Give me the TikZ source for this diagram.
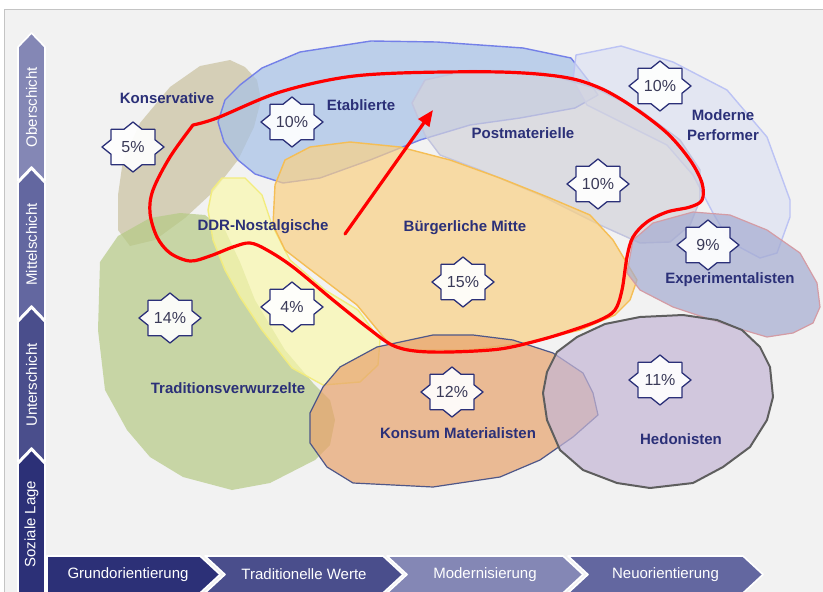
\documentclass[tikz,border=0pt]{standalone}
\usepackage{fontspec}
\setmainfont{Liberation Sans}
\usetikzlibrary{arrows.meta}
\definecolor{navy}{HTML}{2B3078}
\definecolor{pctgray}{HTML}{3A3A58}
\definecolor{barA}{HTML}{2C3077}
\definecolor{barB}{HTML}{4A4E8C}
\definecolor{barC}{HTML}{6367A0}
\definecolor{barD}{HTML}{8487B5}
\definecolor{panelbg}{HTML}{F2F2F2}
\definecolor{panelline}{HTML}{C4C4C4}
\definecolor{konsFill}{HTML}{C9C19F}
\definecolor{etabFill}{HTML}{A6C1E7}
\definecolor{etabLine}{HTML}{7480E8}
\definecolor{modFill}{HTML}{DDE2F3}
\definecolor{modLine}{HTML}{BCC3F4}
\definecolor{postFill}{HTML}{D3D3DB}
\definecolor{postLine}{HTML}{C2C4DE}
\definecolor{buergFill}{HTML}{FAD184}
\definecolor{buergLine}{HTML}{F5BE55}
\definecolor{ddrFill}{HTML}{FAF8AD}
\definecolor{ddrLine}{HTML}{F2EC7E}
\definecolor{tradFill}{HTML}{B5CA85}
\definecolor{expFill}{HTML}{A5ABD0}
\definecolor{expLine}{HTML}{D49CA5}
\definecolor{konsumFill}{HTML}{E8A36D}
\definecolor{konsumLine}{HTML}{4F5788}
\definecolor{hedFill}{HTML}{C4B6D5}
\definecolor{hedLine}{HTML}{5E5E5E}
\begin{document}
\begin{tikzpicture}[x=1pt,y=-1pt, line join=round, line cap=round,
  >={Triangle[length=16pt,width=13pt]},
  blob/.style={fill opacity=0.7, line width=1.4pt},
  barseg/.style={draw=white, line width=1.6pt},
  bartext/.style={font=\fontsize{15}{17}\selectfont, text=white},
  lbl/.style={font=\fontsize{15}{20}\selectfont\bfseries, text=navy, align=center},
  pct/.style={font=\fontsize{16}{18}\selectfont, text=pctgray, inner sep=0pt},
  starbox/.style={fill=white, fill opacity=0.92, draw=navy, line width=1.3pt},
  redline/.style={draw=red, line width=3.2pt}]
\useasboundingbox (0,0) rectangle (823,592);
\draw[fill=panelbg, draw=panelline, line width=1.5pt] (4.5,9.5) rectangle (830,600);
%\draw[color=gray!50,dashed] (0,0) grid[step=50] (823,592);

% milieus
\draw[blob, fill=konsFill, draw=none] (170,87) -- (200,66) -- (230,60) -- (245,67) -- (257,80) -- (261,100) -- (254,127) -- (238,160) -- (212,193) -- (185,218) -- (155,240) -- (130,246) -- (118,230) -- (118,195) -- (123,160) -- (140,123) -- cycle;
\draw[blob, fill=etabFill, draw=etabLine] (218,122) -- (225,100) -- (240,85) -- (262,68) -- (300,52) -- (371,41) -- (437,42) -- (523,48) -- (571,58) -- (588,80) -- (598,95) -- (575,108) -- (520,118) -- (470,125) -- (420,140) -- (370,160) -- (320,178) -- (283,183) -- (255,174) -- (238,160) -- (224,142) -- cycle;
\draw[blob, fill=modFill, draw=modLine] (573,80) -- (576,55) -- (621,46) -- (673,62) -- (727,90) -- (767,137) -- (790,200) -- (790,217) -- (777,253) -- (760,258) -- (730,242) -- (713,213) -- (693,175) -- (667,145) -- (627,125) -- (587,105) -- cycle;
\draw[blob, fill=postFill, draw=postLine] (412,103) -- (425,80) -- (470,70) -- (540,72) -- (595,88) -- (640,110) -- (680,140) -- (700,170) -- (700,200) -- (690,225) -- (670,242) -- (640,243) -- (600,225) -- (540,195) -- (480,170) -- (440,155) -- (425,135) -- cycle;
\draw[blob, fill=tradFill, draw=none] (100,262) -- (118,236) -- (150,218) -- (180,213) -- (205,215) -- (225,230) -- (240,262) -- (255,300) -- (285,350) -- (313,383) -- (330,400) -- (335,420) -- (330,445) -- (315,460) -- (270,483) -- (232,490) -- (183,477) -- (150,457) -- (127,430) -- (105,390) -- (98,330) -- cycle;
\draw[blob, fill=ddrFill, draw=ddrLine] (212,190) -- (222,178) -- (245,178) -- (262,195) -- (272,225) -- (290,260) -- (325,290) -- (358,310) -- (380,340) -- (378,365) -- (360,382) -- (323,385) -- (292,368) -- (262,330) -- (240,297) -- (225,270) -- (213,240) -- (208,210) -- cycle;
\draw[blob, fill=buergFill, draw=buergLine] (275,185) -- (285,160) -- (310,147) -- (350,142) -- (400,147) -- (450,160) -- (500,178) -- (550,198) -- (590,215) -- (613,240) -- (637,280) -- (630,300) -- (615,315) -- (580,330) -- (530,342) -- (470,350) -- (410,350) -- (390,345) -- (357,305) -- (307,267) -- (285,250) -- (273,225) -- cycle;
\draw[blob, fill=expFill, draw=expLine, line width=1.2pt] (627,273) -- (633,240) -- (653,223) -- (693,212) -- (730,215) -- (767,230) -- (800,253) -- (817,283) -- (820,307) -- (813,323) -- (793,333) -- (767,337) -- (733,327) -- (673,307) -- (640,290) -- cycle;
\draw[blob, fill=konsumFill, draw=konsumLine, line width=1.2pt] (310,413) -- (323,387) -- (340,367) -- (377,347) -- (433,335) -- (473,335) -- (513,340) -- (553,353) -- (583,373) -- (593,393) -- (598,415) -- (573,437) -- (540,460) -- (500,477) -- (433,487) -- (353,483) -- (327,467) -- (310,443) -- cycle;
\draw[blob, fill=hedFill, draw=hedLine, line width=2pt] (543,393) -- (547,372) -- (557,352) -- (577,337) -- (605,324) -- (640,317) -- (683,315) -- (717,320) -- (742,330) -- (760,347) -- (770,367) -- (773,397) -- (767,420) -- (750,447) -- (723,467) -- (693,483) -- (650,488) -- (617,483) -- (583,470) -- (560,450) -- (547,420) -- cycle;

% red trend
\draw[redline] plot[smooth, tension=0.55] coordinates {(193,125) (217,118) (277,93) (340,78) (400,73) (500,72) (563,77) (600,88) (633,107) (667,133) (690,160) (702,183) (702,200) (690,207) (667,212) (647,222) (633,237) (627,257) (622,290) (615,310) (600,320) (573,330) (540,340) (500,349) (450,352) (415,351) (392,345) (368,328) (333,300) (293,267) (267,250) (250,243) (233,247) (210,256) (190,261) (170,253) (157,237) (150,213) (153,190) (170,157) (193,125)};
\coordinate (trendA) at (345,234);
\coordinate (trendB) at (433,110);
\draw[redline, ->] (trendA) -- (trendB);

% shares
\foreach \nm/\pos/\txt in {konsPct/{133,147}/5, etabPct/{292,122}/10, modPct/{660,86}/10, postPct/{598,184}/10, expPct/{708,245}/9, buergPct/{463,282}/15, tradPct/{170,318}/14, ddrPct/{292,307}/4, konsumPct/{452,392}/12, hedPct/{660,380}/11}{
  \draw[starbox, shift={(\pos)}] plot[samples at={0,...,15}] ({31*(1-0.235*mod(\x,2))*cos(22.5*\x)},{25*(1-0.235*mod(\x,2))*sin(22.5*\x)}) -- cycle;
  \node[pct] (\nm) at (\pos) {\txt\%};
}

% names
\foreach \nm/\pos/\txt in {konservative/{167,98}/Konservative, etablierte/{361,105}/Etablierte, postmat/{523,133}/Postmaterielle, modperf/{723,125}/{Moderne\\Performer}, ddr/{263,227}/DDR-Nostalgische, buerg/{465,228}/Bürgerliche Mitte, experim/{730,280}/Experimentalisten, tradition/{228,388}/Traditionsverwurzelte, konsum/{458,433}/Konsum Materialisten, hedonisten/{681,439}/Hedonisten}
  \node[lbl] (\nm) at (\pos) {\txt};

% axes
\foreach \ya/\yb/\col/\nm/\txt in {33/181/barD/ober/Oberschicht, 169/320/barC/mittel/Mittelschicht, 308/462/barB/unter/Unterschicht}{
  \draw[barseg, fill=\col] (18,\ya+14) -- (31.5,\ya) -- (45,\ya+14) -- (45,\yb) -- (31.5,\yb-14) -- (18,\yb) -- cycle;
  \node[bartext, rotate=90] (\nm) at (31.5,{(\ya+\yb)/2}) {\txt};
}
\draw[barseg, fill=barA] (18,464) -- (31.5,450) -- (45,464) -- (45,600) -- (18,600) -- cycle;
\node[bartext, rotate=90] (sozial) at (31.5,524) {Soziale Lage};
\draw[barseg, fill=barA] (47,556) -- (200,556) -- (220,574.5) -- (200,593) -- (47,593) -- cycle;
\node[bartext] (grund) at (128,574.5) {Grundorientierung};
\foreach \xa/\xb/\col/\nm/\txt in {205/383/barB/tradwerte/Traditionelle Werte, 387/563/barD/modern/Modernisierung, 568/743/barC/neu/Neuorientierung}{
  \draw[barseg, fill=\col] (\xa,556) -- (\xb,556) -- (\xb+20,574.5) -- (\xb,593) -- (\xa,593) -- (\xa+20,574.5) -- cycle;
  \node[bartext] (\nm) at ({(\xa+\xb)/2+10},574.5) {\txt};
}
\end{tikzpicture}
\end{document}
